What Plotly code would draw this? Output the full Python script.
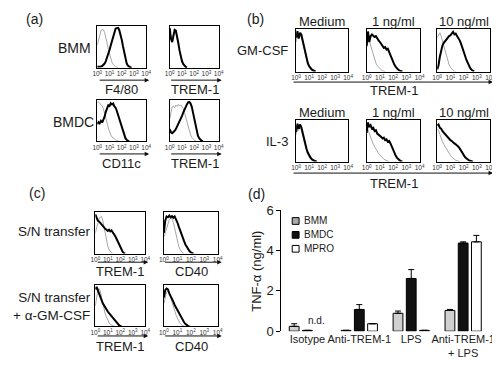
import plotly.graph_objects as go

# The page body has an 8 px default margin, so the figure is drawn 8 px
# smaller and all pixel positions below are given in page coordinates.
PAGE_W, PAGE_H = 500, 366
OFF = 8
W, H = PAGE_W - OFF, PAGE_H - OFF
FONT = "Liberation Sans, Arial, Helvetica, sans-serif"
TXT = "#1a1a1a"

# ---------------- data ----------------
# log10 fluorescence channel positions (decades)
LOG_X = [0.0, 0.1, 0.2, 0.3, 0.4, 0.5, 0.6, 0.7, 0.8, 0.9,
         1.0, 1.1, 1.2, 1.3, 1.4, 1.5, 1.6, 1.7, 1.8, 1.9,
         2.0, 2.1, 2.2, 2.3, 2.4, 2.5, 2.6, 2.7, 2.8, 2.9]
DECADE_TICKS = ["10<sup>0</sup>", "10<sup>1</sup>", "10<sup>2</sup>", "10<sup>3</sup>", "10<sup>4</sup>"]

# (a) BMM F4/80
A1_BLACK = [2, 2, 3, 3, 4, 6, 10, 16, 24, 33, 43, 54, 63, 77, 85, 95, 96, 97, 91, 82, 68, 52, 36, 22, 11, 5, 2, 1, 0]
A1_GRAY = [55, 68, 80, 89, 93, 92, 86, 75, 60, 45, 32, 21, 13, 8, 4, 2, 1, 0]
# (a) BMM TREM-1
A2_BLACK = [96, 70, 62, 80, 92, 90, 78, 60, 42, 27, 16, 9, 4, 2, 0]
A2_GRAY = [85, 75, 70, 82, 88, 84, 72, 55, 38, 24, 14, 7, 3, 1, 0]
# (a) BMDC CD11c
A3_BLACK = [42, 47, 44, 50, 46, 52, 60, 72, 82, 88, 86, 93, 90, 92, 85, 82, 74, 64, 52, 42, 32, 22, 14, 8, 4, 2, 0]
A3_GRAY = [95, 96, 93, 90, 86, 80, 70, 58, 45, 33, 23, 16, 11, 8, 6, 4, 2, 1, 0]
# (a) BMDC TREM-1
A4_BLACK = [30, 22, 20, 22, 26, 30, 36, 42, 48, 55, 62, 70, 78, 85, 90, 95, 96, 92, 84, 70, 54, 38, 24, 14, 8, 4, 2, 0]
A4_GRAY = [55, 72, 84, 86, 82, 88, 85, 90, 86, 89, 84, 80, 70, 58, 45, 34, 24, 16, 10, 6, 3, 1, 0]
# (b) GM-CSF: medium, 1 ng/ml, 10 ng/ml
B1_BLACK = [80, 96, 78, 92, 88, 74, 58, 42, 30, 20, 13, 8, 5, 3, 1, 0]
B1_GRAY = [70, 90, 80, 86, 82, 68, 52, 37, 26, 17, 10, 6, 3, 1, 0]
B2_BLACK = [60, 95, 70, 84, 88, 86, 82, 84, 78, 74, 70, 66, 62, 56, 58, 52, 54, 46, 38, 30, 22, 16, 11, 7, 4, 2, 1, 0]
B2_GRAY = [75, 85, 72, 62, 50, 38, 28, 20, 14, 10, 7, 4, 2, 1, 0]
B3_BLACK = [5, 15, 35, 52, 62, 68, 72, 78, 80, 84, 86, 90, 94, 88, 90, 84, 80, 74, 66, 58, 48, 38, 28, 20, 13, 8, 4, 2, 0]
B3_GRAY = [80, 88, 92, 84, 72, 58, 45, 33, 24, 16, 10, 6, 3, 1, 0]
# (b) IL-3: medium, 1 ng/ml, 10 ng/ml
B4_BLACK = [72, 92, 80, 90, 84, 70, 55, 42, 31, 22, 15, 10, 6, 3, 2, 1, 0]
B4_GRAY = [65, 85, 76, 82, 76, 62, 48, 35, 25, 17, 11, 6, 3, 1, 0]
B5_BLACK = [70, 95, 84, 88, 80, 82, 74, 76, 68, 66, 62, 60, 56, 58, 52, 54, 48, 50, 44, 36, 28, 20, 14, 9, 5, 3, 1, 0]
B5_GRAY = [80, 78, 68, 58, 50, 42, 36, 30, 25, 20, 16, 12, 9, 6, 4, 2, 1, 0]
B6_BLACK = [88, 90, 82, 80, 74, 70, 66, 62, 58, 56, 52, 50, 46, 44, 42, 40, 36, 32, 26, 20, 15, 11, 8, 5, 3, 2, 1, 0]
B6_GRAY = [80, 76, 66, 56, 48, 42, 36, 30, 25, 20, 15, 11, 8, 5, 3, 2, 1, 0]
# (c) S/N transfer: TREM-1, CD40 ; + anti-GM-CSF: TREM-1, CD40
C1_BLACK = [95, 88, 80, 78, 74, 70, 66, 62, 60, 58, 55, 58, 54, 56, 52, 48, 42, 36, 30, 22, 14, 8, 4, 1, 0]
C1_GRAY = [50, 62, 74, 84, 88, 90, 80, 62, 45, 30, 18, 10, 5, 2, 0]
C2_BLACK = [50, 80, 90, 88, 92, 88, 91, 87, 90, 84, 76, 66, 56, 46, 38, 30, 22, 16, 10, 6, 3, 1, 0]
C2_GRAY = [40, 52, 64, 74, 82, 86, 85, 76, 60, 44, 30, 18, 10, 5, 2, 0]
C3_BLACK = [90, 96, 88, 78, 70, 64, 56, 50, 45, 40, 36, 32, 28, 24, 20, 16, 12, 8, 5, 3, 1, 0]
C3_GRAY = [50, 72, 86, 92, 86, 70, 55, 42, 30, 22, 14, 9, 5, 3, 1, 0]
C4_BLACK = [70, 88, 92, 90, 80, 74, 66, 60, 52, 46, 40, 32, 26, 20, 15, 10, 6, 3, 1, 0]
C4_GRAY = [55, 72, 84, 86, 80, 70, 58, 48, 38, 28, 20, 13, 8, 4, 2, 0]

# (d) TNF-alpha bar chart
CATEGORIES = ["Isotype", "Anti-TREM-1", "LPS", "Anti-TREM-1<br>+ LPS"]
SERIES = ["BMM", "BMDC", "MPRO"]
BMM_VALS = [0.24, 0.04, 0.89, 1.03]
BMM_ERR = [0.13, 0.0, 0.11, 0.05]
BMDC_VALS = [0.04, 1.08, 2.62, 4.38]
BMDC_ERR = [0.0, 0.24, 0.44, 0.06]
MPRO_VALS = [None, 0.37, 0.04, 4.44]
MPRO_ERR = [0.0, 0.0, 0.0, 0.32]
Y_TICKS = [0, 2, 4, 6]

# ---------------- layout helpers (page pixels -> paper) ----------------
def px(x):
    return (x - OFF) / W

def py(y):
    return 1 - (y - OFF) / H

def xdom(x0, x1):
    return [px(x0), px(x1)]

def ydom(y0, y1):
    return [py(y1), py(y0)]

# panel boxes in page pixels (x0, x1, y0, y1)
HIST_PANELS = [
    ((94, 144, 20, 63), A1_BLACK, A1_GRAY),
    ((168, 218, 20, 63), A2_BLACK, A2_GRAY),
    ((94, 144, 97, 140), A3_BLACK, A3_GRAY),
    ((168, 218, 97, 140), A4_BLACK, A4_GRAY),
    ((297, 350, 23, 67), B1_BLACK, B1_GRAY),
    ((369, 423, 23, 67), B2_BLACK, B2_GRAY),
    ((441, 495, 23, 67), B3_BLACK, B3_GRAY),
    ((297, 350, 118, 161), B4_BLACK, B4_GRAY),
    ((369, 423, 118, 161), B5_BLACK, B5_GRAY),
    ((441, 495, 118, 161), B6_BLACK, B6_GRAY),
    ((92, 143, 214, 257), C1_BLACK, C1_GRAY),
    ((162, 217, 214, 257), C2_BLACK, C2_GRAY),
    ((92, 143, 290, 333), C3_BLACK, C3_GRAY),
    ((162, 217, 290, 333), C4_BLACK, C4_GRAY),
]

fig = go.Figure()
layout = dict(
    width=W, height=H, margin=dict(l=0, r=0, t=0, b=0),
    paper_bgcolor="white", plot_bgcolor="white",
    showlegend=False, font=dict(family=FONT, color=TXT),
    barmode="group", bargap=0.236, bargroupgap=0.26,
)

for i, (box, black, gray) in enumerate(HIST_PANELS):
    n = i + 1
    sx = "" if n == 1 else str(n)
    x0, x1, y0, y1 = box
    fig.add_trace(go.Scatter(x=LOG_X[:len(gray)], y=gray, mode="lines",
                             line=dict(color="#a6a6a6", width=1),
                             xaxis="x" + sx, yaxis="y" + sx, hoverinfo="skip"))
    fig.add_trace(go.Scatter(x=LOG_X[:len(black)], y=black, mode="lines",
                             line=dict(color="#000000", width=2),
                             xaxis="x" + sx, yaxis="y" + sx, hoverinfo="skip"))
    layout["xaxis" + sx] = dict(
        domain=xdom(x0, x1), anchor="y" + sx, range=[0, 4],
        showline=True, mirror=True, linecolor="black", linewidth=1,
        showgrid=False, zeroline=False, ticks="", tickangle=0,
        tickvals=[0, 1, 2, 3, 4], ticktext=DECADE_TICKS,
        tickfont=dict(size=6.5, color="#333333", family=FONT),
        fixedrange=True,
    )
    layout["yaxis" + sx] = dict(
        domain=ydom(y0, y1), anchor="x" + sx, range=[0, 100],
        showline=True, mirror=True, linecolor="black", linewidth=1,
        showgrid=False, zeroline=False, ticks="", showticklabels=False,
        fixedrange=True,
    )

# ---------------- bar chart (d) ----------------
bn = len(HIST_PANELS) + 1
bsx = str(bn)
bar_styles = [("#d0d0d0", BMM_VALS, BMM_ERR),
              ("#111111", BMDC_VALS, BMDC_ERR),
              ("#ffffff", MPRO_VALS, MPRO_ERR)]
for name, (color, vals, err) in zip(SERIES, bar_styles):
    fig.add_trace(go.Bar(
        x=CATEGORIES, y=vals, name=name,
        marker=dict(color=color, line=dict(color="black", width=1)),
        error_y=dict(type="data", array=err, symmetric=False,
                     arrayminus=[0] * len(err), color="black",
                     thickness=1, width=3),
        xaxis="x" + bsx, yaxis="y" + bsx,
    ))
layout["xaxis" + bsx] = dict(
    domain=xdom(282, 494), anchor="y" + bsx,
    showline=False, ticks="", showgrid=False, zeroline=False, tickangle=0,
    tickfont=dict(size=11, color=TXT, family=FONT), fixedrange=True,
)
layout["yaxis" + bsx] = dict(
    domain=ydom(212, 338), anchor="x" + bsx, range=[0, 6],
    tickvals=Y_TICKS, ticks="outside", ticklen=4, tickwidth=1, tickcolor="black",
    showline=True, linecolor="black", linewidth=1,
    showgrid=False, zeroline=False,
    tickfont=dict(size=13, color=TXT, family=FONT), fixedrange=True,
)

# ---------------- annotations ----------------
ann = []

def text(t, x, y, size=13, xanchor="center", align="center", angle=0):
    ann.append(dict(text=t, x=px(x), y=py(y), xref="paper", yref="paper",
                    showarrow=False, xanchor=xanchor, yanchor="middle",
                    align=align, textangle=angle,
                    font=dict(size=size, family=FONT, color=TXT)))

def arrow(x0, x1, y):
    ann.append(dict(text="", x=px(x1), y=py(y), xref="paper", yref="paper",
                    ax=-(x1 - x0), ay=0, axref="pixel", ayref="pixel",
                    showarrow=True, arrowhead=2, arrowsize=0.9,
                    arrowwidth=1, arrowcolor="#111111"))

# panel letters
text("(a)", 30, 12, 14)
text("(b)", 256, 12, 14)
text("(c)", 33, 194, 14)
text("(d)", 257, 195, 14)

# row labels
text("BMM", 90, 42, 14, xanchor="right")
text("BMDC", 93, 120, 14, xanchor="right")
text("GM-CSF", 291, 45, 13, xanchor="right")
text("IL-3", 291, 140, 13, xanchor="right")
text("S/N transfer", 90, 234, 13.5, xanchor="right")
text("S/N transfer<br>+ α-GM-CSF", 90, 312, 13.5, xanchor="right", align="right")

# column labels in (b)
for y in (15, 110):
    text("Medium", 323, y, 13)
    text("1 ng/ml", 396, y, 13)
    text("10 ng/ml", 468, y, 13)

# axis arrows and marker labels
arrow(96, 147, 76); text("F4/80", 119, 86)
arrow(169, 221, 76); text("TREM-1", 194, 86)
arrow(96, 147, 153); text("CD11c", 119, 163)
arrow(169, 221, 153); text("TREM-1", 194, 163)
arrow(297, 498, 78); text("TREM-1", 397, 87)
arrow(297, 498, 173); text("TREM-1", 397, 184)
arrow(94, 146, 266); text("TREM-1", 117, 276)
arrow(163, 221, 266); text("CD40", 190, 276)
arrow(94, 146, 343); text("TREM-1", 117, 354)
arrow(163, 221, 343); text("CD40", 190, 354)

# bar chart extras
text("TNF-α (ng/ml)", 257, 275, 13, angle=-90)
text("n.d.", 318, 327, 10)

# manual legend for (d)
legend_swatch = ["#a8a8a8", "#111111", "#ffffff"]
shapes = []
for k, (name, sw) in enumerate(zip(SERIES, legend_swatch)):
    yc = 223 + k * 14.5
    shapes.append(dict(type="rect", xref="paper", yref="paper",
                       x0=px(293), x1=px(300), y0=py(yc + 3.5), y1=py(yc - 3.5),
                       fillcolor=sw, line=dict(color="black", width=1)))
    text(name, 303, yc, 10, xanchor="left")

layout["annotations"] = ann
layout["shapes"] = shapes
fig.update_layout(**layout)

fig.write_html("out.html")
